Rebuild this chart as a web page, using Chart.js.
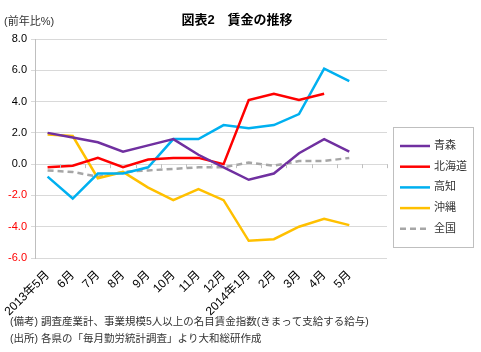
<!DOCTYPE html>
<html>
<head>
<meta charset="utf-8">
<script src="https://cdn.jsdelivr.net/npm/chart.js@4.4.1/dist/chart.umd.min.js"></script>
<style>
  html, body { margin: 0; padding: 0; background: #fff; }
  #wrap { width: 481px; height: 352px; position: relative; }
</style>
</head>
<body>
<div id="wrap"><canvas id="wageChart"></canvas></div>
<script>
const FONT = '"Liberation Sans", "Noto Sans CJK JP", sans-serif';

const months = ['2013年5月', '6月', '7月', '8月', '9月', '10月', '11月', '12月',
    '2014年1月', '2月', '3月', '4月', '5月', ''];

const aomori   = [2.0, 1.7, 1.4, 0.8, 1.2, 1.6, 0.6, -0.2, -1.0, -0.6, 0.7, 1.6, 0.8];
const hokkaido = [-0.2, -0.1, 0.4, -0.2, 0.3, 0.4, 0.4, 0.0, 4.1, 4.5, 4.1, 4.5, null];
const kochi    = [-0.8, -2.2, -0.6, -0.6, -0.2, 1.6, 1.6, 2.5, 2.3, 2.5, 3.2, 6.1, 5.3];
const okinawa  = [1.9, 1.8, -0.9, -0.5, -1.5, -2.3, -1.6, -2.3, -4.9, -4.8, -4.0, -3.5, -3.9];
const zenkoku  = [-0.4, -0.5, -0.8, -0.5, -0.4, -0.3, -0.2, -0.2, 0.1, -0.1, 0.2, 0.2, 0.4];

const yTicks = [-6, -4, -2, 0, 2, 4, 6, 8];

const titleText = '図表2　賃金の推移';
const unitText = '(前年比%)';
const notes = [
    '(備考) 調査産業計、事業規模5人以上の名目賃金指数(きまって支給する給与)',
    '(出所) 各県の「毎月勤労統計調査」より大和総研作成'
];

function line(label, data, color, dash) {
    return {
        label: label,
        data: data,
        borderColor: color,
        backgroundColor: color,
        borderWidth: 2.5,
        borderDash: dash || [],
        pointRadius: 0,
        tension: 0,
        spanGaps: false
    };
}

// title, unit label, notes, zero-line ticks and framed legend
const extras = {
    id: 'extras',
    afterDraw(chart) {
        const ctx = chart.ctx;
        const area = chart.chartArea;
        const xs = chart.scales.x;
        const ys = chart.scales.y;
        ctx.save();

        // small ticks on the zero line
        const y0 = ys.getPixelForValue(0);
        const step = (area.right - area.left) / months.length;
        ctx.strokeStyle = '#bfbfbf';
        ctx.lineWidth = 1;
        ctx.beginPath();
        for (let i = 1; i <= months.length; i++) {
            const x = Math.round(area.left + i * step) + 0.5;
            ctx.moveTo(x, y0);
            ctx.lineTo(x, y0 + 4);
        }
        ctx.stroke();

        ctx.fillStyle = '#000';
        ctx.textBaseline = 'middle';
        ctx.font = 'bold 13px ' + FONT;
        ctx.textAlign = 'center';
        ctx.fillText(titleText, 237, 20);

        ctx.font = '11px ' + FONT;
        ctx.textAlign = 'left';
        ctx.fillStyle = '#333';
        ctx.fillText(unitText, 4, 22);

        ctx.font = '10.5px ' + FONT;
        ctx.fillText(notes[0], 10, 322);
        ctx.fillText(notes[1], 10, 339);

        // legend
        ctx.fillStyle = '#fff';
        ctx.fillRect(393.5, 127.5, 80, 120);
        ctx.strokeStyle = '#bfbfbf';
        ctx.strokeRect(393.5, 127.5, 80, 120);
        ctx.font = '11px ' + FONT;
        chart.data.datasets.forEach((ds, i) => {
            const y = 146 + i * 20.7;
            ctx.strokeStyle = ds.borderColor;
            ctx.lineWidth = 2.5;
            ctx.setLineDash(ds.borderDash);
            ctx.beginPath();
            ctx.moveTo(400, y);
            ctx.lineTo(430, y);
            ctx.stroke();
            ctx.setLineDash([]);
            ctx.fillStyle = '#333';
            ctx.fillText(ds.label, 434, y);
        });
        ctx.restore();
    }
};

new Chart(document.getElementById('wageChart'), {
    type: 'line',
    data: {
        labels: months,
        datasets: [
            line('青森', aomori, '#7030A0'),
            line('北海道', hokkaido, '#FF0000'),
            line('高知', kochi, '#00B0F0'),
            line('沖縄', okinawa, '#FFC000'),
            line('全国', zenkoku, '#A6A6A6', [6, 4])
        ]
    },
    options: {
        responsive: true,
        maintainAspectRatio: false,
        animation: false,
        layout: { padding: { top: 39, right: 94, left: 0, bottom: 0 } },
        plugins: {
            legend: { display: false },
            title: { display: false },
            tooltip: { enabled: false }
        },
        scales: {
            x: {
                offset: true,
                grid: { display: false },
                border: { display: false },
                afterFit(scale) { scale.height = 94; },
                ticks: {
                    autoSkip: false,
                    maxRotation: 45,
                    minRotation: 45,
                    padding: 2,
                    color: '#000',
                    font: { family: FONT, size: 12 }
                }
            },
            y: {
                min: -6,
                max: 8,
                afterFit(scale) { scale.width = 35; },
                afterBuildTicks(scale) {
                    scale.ticks = yTicks.map(v => ({ value: v }));
                },
                grid: { color: '#d9d9d9', lineWidth: 1, tickLength: 4 },
                border: { display: true, color: '#bfbfbf' },
                ticks: {
                    padding: 4,
                    font: { family: FONT, size: 11 },
                    color: ctx => ctx.tick.value < 0 ? '#FF0000' : '#000',
                    callback: v => v.toFixed(1)
                }
            }
        }
    },
    plugins: [extras]
});
</script>
</body>
</html>
